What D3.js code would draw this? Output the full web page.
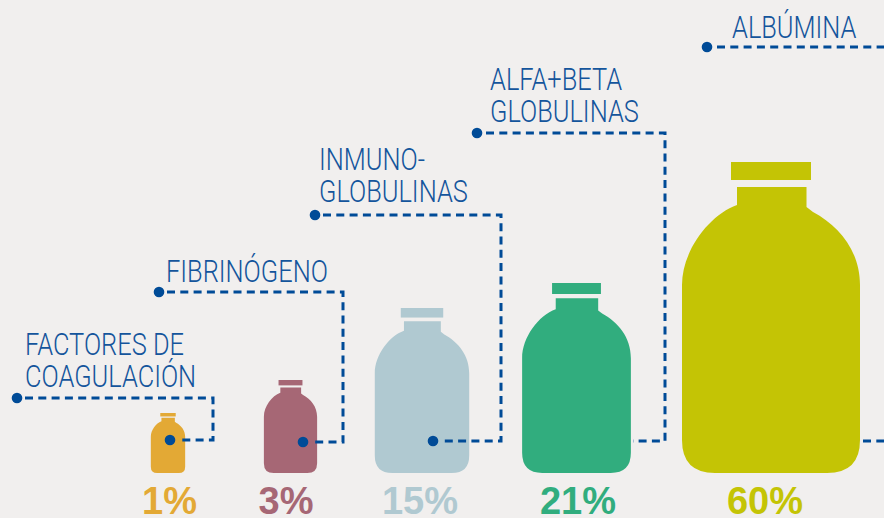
<!DOCTYPE html>
<html>
<head>
<meta charset="utf-8">
<script src="https://cdn.jsdelivr.net/npm/d3@7"></script>
<style>
  html, body { margin: 0; padding: 0; background: #f1efee; }
  svg { display: block; }
</style>
</head>
<body>
<div id="chartContainer"></div>
<script>
const shares = [1, 3, 15, 21, 60];
const colors = ["#e3a935", "#a66775", "#b0c9d1", "#31ad7e", "#c4c405"];
const labelLines = [
    ["FACTORES DE", "COAGULACIÓN"],
    ["FIBRINÓGENO"],
    ["INMUNO-", "GLOBULINAS"],
    ["ALFA+BETA", "GLOBULINAS"],
    ["ALBÚMINA"]
];

const width = 884, height = 518, baseY = 473;
const blue = "#004b97", textBlue = "#14559c";

// layout
const bottleX = d3.scaleOrdinal().domain(shares).range([168, 290.5, 422, 576.5, 771]);
const pctX = d3.scaleOrdinal().domain(shares).range([169.5, 286, 420, 578, 765]);
const bottleH = d3.scaleLinear().domain(shares).range([60, 93, 165, 190, 311]);
const color = d3.scaleOrdinal().domain(shares).range(colors);

const labelPos = [
    { x: 25, y: 355 },
    { x: 166, y: 282 },
    { x: 319, y: 170 },
    { x: 490, y: 90 },
    { x: 732, y: 38 }
];
const lineHeight = 32;
const labelSqueeze = 0.82; // the original face is a condensed one

// connector: start dot, dashed elbow, optional dot at the bottle end
const connectors = [
    { dot: [17, 398], pts: [[25, 398], [213, 398], [213, 440], [180, 440]], end: [170, 440] },
    { dot: [159, 292], pts: [[167, 292], [343, 292], [343, 442], [312, 442]], end: [303, 442] },
    { dot: [315, 215], pts: [[323, 215], [501, 215], [501, 441], [442, 441]], end: [433, 441] },
    { dot: [477, 133], pts: [[486, 133], [665, 133], [665, 441], [633, 441]] },
    { dot: [707, 47], pts: [[717, 47], [884, 47]] },
    { pts: [[863, 441], [884, 441]] }
];

const svg = d3.select("#chartContainer").append("svg")
    .attr("width", width)
    .attr("height", height);

svg.append("rect").attr("width", width).attr("height", height).attr("fill", "#f1efee");

// bottle body in a 178x311 box, origin at the bottom centre
function bottlePath() {
    const p = d3.path();
    p.moveTo(-34, -268);
    p.bezierCurveTo(-62, -258, -89, -222, -89, -188);
    p.lineTo(-89, -33);
    p.quadraticCurveTo(-89, 0, -56, 0);
    p.lineTo(56, 0);
    p.quadraticCurveTo(89, 0, 89, -33);
    p.lineTo(89, -188);
    p.bezierCurveTo(89, -222, 68, -247, 42, -261);
    p.lineTo(35.5, -266);
    p.lineTo(35.5, -286);
    p.lineTo(-34, -286);
    p.closePath();
    return p.toString();
}

const bottles = svg.selectAll(".bottle")
    .data(shares)
    .enter()
    .append("g")
    .attr("class", "bottle")
    .attr("fill", d => color(d))
    .attr("transform", d => `translate(${bottleX(d)},${baseY}) scale(${bottleH(d) / 311})`);

bottles.append("path").attr("d", bottlePath());
bottles.append("rect")
    .attr("x", -40).attr("y", -311)
    .attr("width", 80).attr("height", 18);

const line = d3.line();

svg.selectAll(".connector")
    .data(connectors)
    .enter()
    .append("path")
    .attr("class", "connector")
    .attr("d", d => line(d.pts))
    .attr("fill", "none")
    .attr("stroke", blue)
    .attr("stroke-width", 3)
    .attr("stroke-dasharray", "8 5.3");

const dots = connectors.flatMap(c => [c.dot, c.end]).filter(Boolean);
svg.selectAll(".dot")
    .data(dots)
    .enter()
    .append("circle")
    .attr("class", "dot")
    .attr("cx", d => d[0])
    .attr("cy", d => d[1])
    .attr("r", 5.3)
    .attr("fill", blue);

labelLines.forEach((lines, i) => {
    svg.append("g")
        .attr("transform", `translate(${labelPos[i].x},${labelPos[i].y}) scale(${labelSqueeze},1)`)
        .selectAll("text")
        .data(lines)
        .enter()
        .append("text")
        .attr("y", (d, j) => j * lineHeight)
        .attr("font-family", "Roboto, 'Liberation Sans', sans-serif")
        .attr("font-weight", 300)
        .attr("font-size", 31)
        .attr("fill", textBlue)
        .text(d => d);
});

svg.selectAll(".pct")
    .data(shares)
    .enter()
    .append("text")
    .attr("class", "pct")
    .attr("x", d => pctX(d))
    .attr("y", 514)
    .attr("text-anchor", "middle")
    .attr("font-family", "'Liberation Sans', Arial, sans-serif")
    .attr("font-weight", "bold")
    .attr("font-size", 38)
    .attr("fill", d => color(d))
    .text(d => d + "%");
</script>
</body>
</html>
